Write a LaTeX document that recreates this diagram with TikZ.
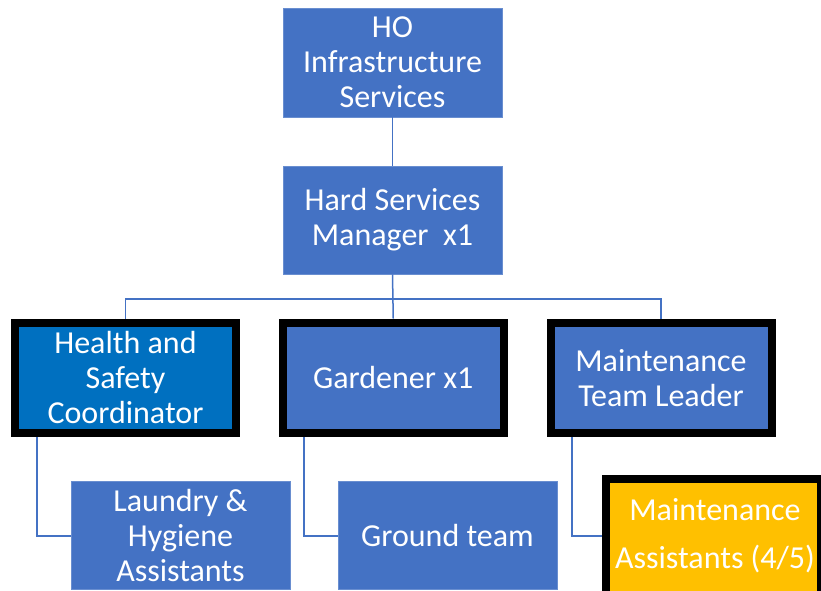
\documentclass[tikz,border=0pt]{standalone}
\usepackage{fontspec}
\setmainfont{Carlito}
\definecolor{obox}{HTML}{4472C4}
\definecolor{hsbox}{HTML}{0070C0}
\definecolor{ybox}{HTML}{FFC000}
\begin{document}
\begin{tikzpicture}[x=1pt,y=-1pt,
  box/.style={rectangle, fill=obox, draw=obox!80!white, line width=0.8pt, text=white, align=center,
    font=\fontsize{32}{35}\selectfont, inner sep=0pt},
  boldbox/.style={box, draw=black, line width=8pt},
  conn/.style={draw=obox, line width=1.5pt}]
\clip (0,0) rectangle (821,590);
\fill[white] (0,0) rectangle (821,590);
\node[box, minimum width=219pt, minimum height=109pt] (ho) at (392.5,62.5) {HO\\Infrastructure\\Services};
\node[box, minimum width=219pt, minimum height=108pt] (mgr) at (392.5,220) {Hard Services\\Manager\ \ x1};
\node[boldbox, fill=hsbox, minimum width=221pt, minimum height=110.5pt] (hs) at (125.5,377.75) {Health and\\Safety\\Coordinator};
\node[boldbox, minimum width=221.5pt, minimum height=110.5pt] (gard) at (393.25,377.75) {Gardener x1};
\node[boldbox, minimum width=221pt, minimum height=110.5pt] (mtl) at (661,377.75) {Maintenance\\Team Leader};
\node[box, minimum width=219pt, minimum height=108pt] (lh) at (180.5,535) {Laundry \&\\Hygiene\\Assistants};
\node[box, minimum width=219pt, minimum height=108pt] (gt) at (447.5,535) {Ground team};
\node[boldbox, fill=ybox, minimum width=215pt, minimum height=140pt] (ma) at (713.5,549) {};
\node[text=white, align=center, font=\fontsize{32}{48}\selectfont, inner sep=0pt] (matext) at (715,536) {Maintenance\\Assistants (4/5)};
\coordinate (bus) at (392.5,299);
\draw[conn] (ho.south) -- (mgr.north);
\draw[conn] (mgr.south) -- (gard.north);
\draw[conn] (hs.north) |- (bus) -| (mtl.north);
\draw[conn] (hs.south -| 37,0) |- ([yshift=13pt]ma.west -| lh.west);
\draw[conn] (gard.south -| 304,0) |- ([yshift=13pt]ma.west -| gt.west);
\draw[conn] (mtl.south -| 572,0) |- ([yshift=13pt]ma.west);
\end{tikzpicture}
\end{document}
